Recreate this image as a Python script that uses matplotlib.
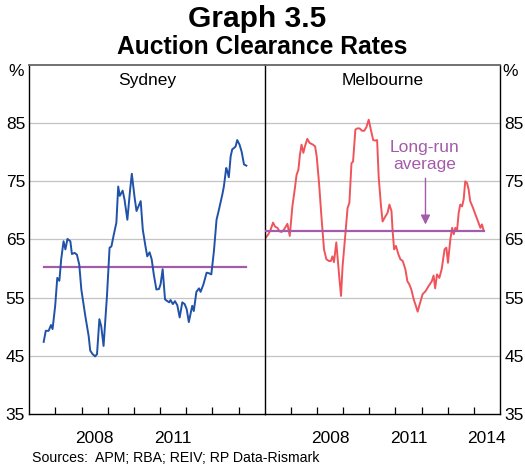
import numpy as np
import matplotlib
matplotlib.use("Agg")
import matplotlib.pyplot as plt

plt.rcParams['font.family'] = ['Liberation Sans', 'DejaVu Sans']

# Sydney auction clearance rate, % (decimal year, value)
syd_t = [2006.55, 2006.63, 2006.74, 2006.83, 2006.89, 2006.99, 2007.07, 2007.15, 2007.22, 2007.31,
         2007.38, 2007.46, 2007.57, 2007.63, 2007.73, 2007.82, 2007.91, 2007.99, 2008.14, 2008.27,
         2008.33, 2008.42, 2008.52, 2008.59, 2008.68, 2008.75, 2008.84, 2008.97, 2009.07, 2009.14,
         2009.22, 2009.33, 2009.40, 2009.46, 2009.57, 2009.64, 2009.75, 2009.85, 2009.92, 2010.03,
         2010.10, 2010.26, 2010.34, 2010.44, 2010.51, 2010.60, 2010.68, 2010.76, 2010.86, 2010.96,
         2011.02, 2011.10, 2011.15, 2011.19, 2011.28, 2011.35, 2011.40, 2011.49, 2011.57, 2011.66,
         2011.75, 2011.85, 2011.94, 2012.02, 2012.10, 2012.23, 2012.29, 2012.39, 2012.49, 2012.55,
         2012.66, 2012.78, 2012.87, 2012.96, 2013.06, 2013.16, 2013.25, 2013.38, 2013.44, 2013.53,
         2013.57, 2013.63, 2013.70, 2013.76, 2013.82, 2013.89, 2013.95, 2014.04, 2014.12, 2014.21,
         2014.30]
syd_v = [47.4, 49.3, 49.3, 50.3, 49.6, 53.6, 58.4, 57.9, 61.6, 64.7,
         63.3, 65.1, 64.7, 62.5, 62.7, 62.4, 60.7, 56.4, 51.9, 48.4,
         45.9, 45.3, 44.9, 45.3, 51.3, 50.1, 46.7, 55.3, 63.6, 63.8,
         65.6, 67.9, 74.1, 72.5, 73.4, 71.9, 68.4, 73.3, 76.3, 72.1,
         69.9, 71.6, 66.7, 63.9, 62.1, 62.8, 61.6, 59.0, 56.4, 56.5,
         57.3, 59.9, 57.0, 54.7, 54.4, 54.2, 54.6, 53.9, 54.4, 53.7,
         51.6, 54.2, 53.9, 53.0, 50.8, 53.6, 52.7, 56.0, 56.6, 56.0,
         57.3, 59.3, 59.2, 59.0, 63.0, 68.4, 70.1, 72.7, 74.1, 77.3,
         76.8, 75.7, 79.3, 80.5, 80.7, 81.0, 82.1, 81.3, 80.1, 77.9,
         77.7]

# Melbourne auction clearance rate, %
mel_t = [2006.04, 2006.14, 2006.23, 2006.32, 2006.40, 2006.49, 2006.57, 2006.65, 2006.74, 2006.87,
         2006.96, 2007.06, 2007.15, 2007.22, 2007.29, 2007.35, 2007.41, 2007.48, 2007.54, 2007.63,
         2007.72, 2007.85, 2007.93, 2007.99, 2008.08, 2008.18, 2008.27, 2008.36, 2008.46, 2008.53,
         2008.59, 2008.65, 2008.74, 2008.85, 2008.92, 2008.98, 2009.09, 2009.17, 2009.24, 2009.32,
         2009.38, 2009.47, 2009.54, 2009.63, 2009.72, 2009.81, 2009.89, 2009.98, 2010.05, 2010.15,
         2010.23, 2010.30, 2010.36, 2010.45, 2010.51, 2010.62, 2010.70, 2010.77, 2010.85, 2010.89,
         2010.95, 2011.02, 2011.11, 2011.19, 2011.28, 2011.38, 2011.46, 2011.53, 2011.61, 2011.70,
         2011.76, 2011.85, 2011.95, 2012.04, 2012.15, 2012.27, 2012.39, 2012.46, 2012.52, 2012.59,
         2012.68, 2012.77, 2012.88, 2012.95, 2013.01, 2013.10, 2013.17, 2013.23, 2013.29, 2013.36,
         2013.42, 2013.48, 2013.55, 2013.61, 2013.67, 2013.74, 2013.80, 2013.86, 2013.97, 2014.06,
         2014.16, 2014.25, 2014.31, 2014.37]
mel_v = [65.3, 65.9, 66.7, 67.9, 67.2, 67.0, 66.4, 66.3, 66.7, 67.7,
         65.6, 70.7, 73.6, 76.1, 77.0, 79.6, 81.3, 79.9, 81.0, 82.3,
         81.6, 81.3, 81.0, 79.3, 74.7, 68.4, 63.3, 61.6, 61.3, 61.3,
         62.1, 61.1, 64.5, 58.7, 55.3, 60.4, 66.1, 70.4, 71.3, 78.1,
         78.4, 83.9, 84.1, 84.1, 83.7, 83.7, 84.3, 85.6, 84.1, 82.1,
         82.0, 82.1, 75.8, 70.7, 68.1, 69.0, 69.6, 71.0, 69.9, 66.7,
         63.3, 63.9, 62.5, 61.6, 61.3, 59.9, 57.8, 57.3, 56.4, 54.7,
         53.9, 52.6, 54.2, 55.6, 56.1, 57.0, 57.8, 58.8, 56.6, 59.0,
         58.4, 59.9, 63.3, 63.6, 61.0, 65.0, 67.0, 65.9, 67.0, 66.7,
         69.6, 71.0, 70.7, 71.9, 75.0, 74.7, 73.6, 71.6, 70.4, 69.3,
         68.1, 67.0, 67.6, 66.6]

# long-run averages
syd_avg = 60.3
mel_avg = 66.4
syd_avg_span = [2006.55, 2014.30]
mel_avg_span = [2006.0, 2014.37]

yticks = [35, 45, 55, 65, 75, 85]
year_ticks = list(range(2007, 2015))

blue = '#1f52a8'
red = '#f0545a'
purple = '#a35ca9'

fig = plt.figure(figsize=(5.25, 4.68), dpi=100)
left, bottom, w, h = 0.0558, 0.1154, 0.4483, 0.7457
ax1 = fig.add_axes([left, bottom, w, h])
ax2 = fig.add_axes([left + w, bottom, w, h])

for ax in (ax1, ax2):
    ax.set_xlim(2006, 2015)
    ax.set_ylim(35, 95)
    ax.set_yticks(yticks)
    for g in yticks[1:]:
        ax.axhline(g, color='#c4c4c4', lw=0.9, zorder=0)
    ax.set_xticks(year_ticks)
    ax.set_xticklabels([])
    ax.tick_params(axis='x', which='major', direction='in', length=5, width=0.9, color='black')
    ax.tick_params(axis='x', which='minor', length=0, labelsize=12.5, pad=12)
    ax.tick_params(axis='y', length=0, labelsize=12.5, pad=3)
    for s in ('left', 'right', 'bottom'):
        ax.spines[s].set_color('black')
        ax.spines[s].set_linewidth(1.0)
    ax.spines['top'].set_color('#666666')
    ax.spines['top'].set_linewidth(1.3)

ax1.set_xticks([2008.5, 2011.5], minor=True)
ax1.set_xticklabels(['2008', '2011'], minor=True)
ax2.set_xticks([2008.5, 2011.5, 2014.5], minor=True)
ax2.set_xticklabels(['2008', '2011', '2014'], minor=True)

ax1.spines['right'].set_visible(False)
ax2.yaxis.tick_right()

ax1.plot(syd_avg_span, [syd_avg, syd_avg], color=purple, lw=1.6, zorder=2)
ax1.plot(syd_t, syd_v, color=blue, lw=1.4, zorder=3)
ax2.plot(mel_avg_span, [mel_avg, mel_avg], color=purple, lw=1.6, zorder=3)
ax2.plot(mel_t, mel_v, color=red, lw=1.4, zorder=2)

ax1.text(0.5, 0.957, 'Sydney', transform=ax1.transAxes, ha='center', va='center', fontsize=12.5)
ax2.text(0.5, 0.957, 'Melbourne', transform=ax2.transAxes, ha='center', va='center', fontsize=12.5)

ax2.text(2012.12, 79.4, 'Long-run\naverage', ha='center', va='center', fontsize=12.5,
         color=purple, linespacing=1.2)
ax2.annotate('', xy=(2012.15, 67.1), xytext=(2012.15, 76.0),
             arrowprops=dict(arrowstyle='-|>', color=purple, lw=1.0, mutation_scale=14))

fig.text(0.031, 1 - 72 / 468, '%', ha='center', va='center', fontsize=12.5)
fig.text(0.972, 1 - 72 / 468, '%', ha='center', va='center', fontsize=12.5)

fig.text(257 / 525, 1 - 19 / 468, 'Graph 3.5', ha='center', va='center', fontsize=21.5,
         fontweight='bold')
fig.text(0.5, 1 - 47 / 468, 'Auction Clearance Rates', ha='center', va='center', fontsize=17.7,
         fontweight='bold')
fig.text(0.061, 1 - 458 / 468, 'Sources:  APM; RBA; REIV; RP Data-Rismark', ha='left', va='center',
         fontsize=10.2)

fig.savefig('out.png', dpi=100)
